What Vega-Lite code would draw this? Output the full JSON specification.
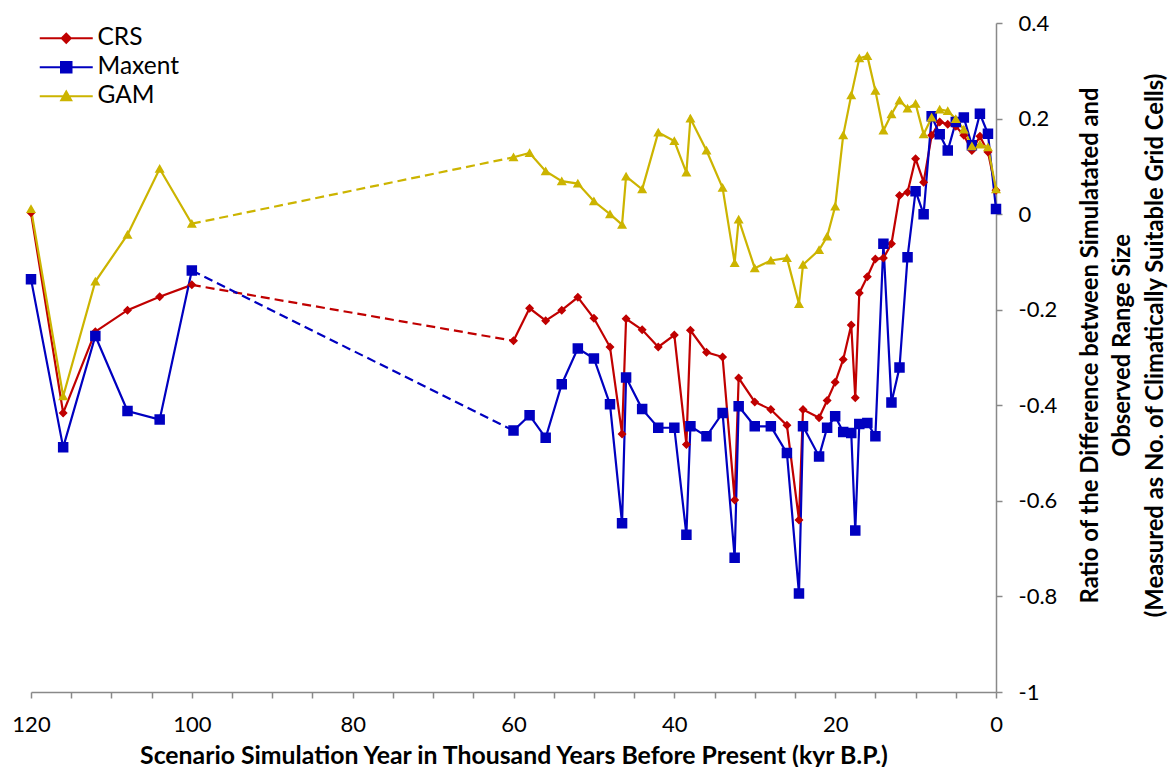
{
  "$schema": "https://vega.github.io/schema/vega-lite/v6.json",
  "width": 965,
  "height": 669,
  "autosize": {"type": "none"},
  "padding": {"left": 31, "top": 23, "right": 177, "bottom": 75},
  "background": "white",
  "config": {
    "view": {"stroke": null},
    "font": "Lato",
    "axis": {"grid": false, "domainColor": "#898989", "tickColor": "#898989", "domainWidth": 1.5, "tickWidth": 1.5, "labelColor": "#000000", "titleColor": "#000000", "labelFont": "Lato", "titleFont": "Lato", "labelFontSize": 22, "titleFontSize": 24.8, "titleFontWeight": "bold"}
  },
  "data": {"values": [
    {"m":"CRS","x":120,"y":0.003},{"m":"CRS","x":116,"y":-0.416},{"m":"CRS","x":112,"y":-0.246},{"m":"CRS","x":108,"y":-0.201},{"m":"CRS","x":104,"y":-0.173},{"m":"CRS","x":100,"y":-0.148},
    {"m":"CRS","x":60,"y":-0.265},{"m":"CRS","x":58,"y":-0.197},{"m":"CRS","x":56,"y":-0.223},{"m":"CRS","x":54,"y":-0.201},{"m":"CRS","x":52,"y":-0.174},{"m":"CRS","x":50,"y":-0.218},{"m":"CRS","x":48,"y":-0.278},{"m":"CRS","x":46.5,"y":-0.46},{"m":"CRS","x":46,"y":-0.219},{"m":"CRS","x":44,"y":-0.242},{"m":"CRS","x":42,"y":-0.278},{"m":"CRS","x":40,"y":-0.253},{"m":"CRS","x":38.5,"y":-0.482},{"m":"CRS","x":38,"y":-0.243},{"m":"CRS","x":36,"y":-0.289},{"m":"CRS","x":34,"y":-0.299},{"m":"CRS","x":32.5,"y":-0.598},{"m":"CRS","x":32,"y":-0.343},{"m":"CRS","x":30,"y":-0.393},{"m":"CRS","x":28,"y":-0.409},{"m":"CRS","x":26,"y":-0.442},{"m":"CRS","x":24.5,"y":-0.64},{"m":"CRS","x":24,"y":-0.409},{"m":"CRS","x":22,"y":-0.426},{"m":"CRS","x":21,"y":-0.39},{"m":"CRS","x":20,"y":-0.352},{"m":"CRS","x":19,"y":-0.304},{"m":"CRS","x":18,"y":-0.232},{"m":"CRS","x":17.5,"y":-0.384},{"m":"CRS","x":17,"y":-0.165},{"m":"CRS","x":16,"y":-0.131},{"m":"CRS","x":15,"y":-0.094},{"m":"CRS","x":14,"y":-0.092},{"m":"CRS","x":13,"y":-0.062},{"m":"CRS","x":12,"y":0.039},{"m":"CRS","x":11,"y":0.046},{"m":"CRS","x":10,"y":0.116},{"m":"CRS","x":9,"y":0.067},{"m":"CRS","x":8,"y":0.165},{"m":"CRS","x":7,"y":0.193},{"m":"CRS","x":6,"y":0.188},{"m":"CRS","x":5,"y":0.184},{"m":"CRS","x":4,"y":0.165},{"m":"CRS","x":3,"y":0.133},{"m":"CRS","x":2,"y":0.163},{"m":"CRS","x":1,"y":0.13},{"m":"CRS","x":0,"y":0.05},
    {"m":"Maxent","x":120,"y":-0.136},{"m":"Maxent","x":116,"y":-0.488},{"m":"Maxent","x":112,"y":-0.255},{"m":"Maxent","x":108,"y":-0.412},{"m":"Maxent","x":104,"y":-0.43},{"m":"Maxent","x":100,"y":-0.118},
    {"m":"Maxent","x":60,"y":-0.453},{"m":"Maxent","x":58,"y":-0.421},{"m":"Maxent","x":56,"y":-0.468},{"m":"Maxent","x":54,"y":-0.356},{"m":"Maxent","x":52,"y":-0.281},{"m":"Maxent","x":50,"y":-0.302},{"m":"Maxent","x":48,"y":-0.398},{"m":"Maxent","x":46.5,"y":-0.647},{"m":"Maxent","x":46,"y":-0.342},{"m":"Maxent","x":44,"y":-0.408},{"m":"Maxent","x":42,"y":-0.447},{"m":"Maxent","x":40,"y":-0.447},{"m":"Maxent","x":38.5,"y":-0.671},{"m":"Maxent","x":38,"y":-0.444},{"m":"Maxent","x":36,"y":-0.465},{"m":"Maxent","x":34,"y":-0.416},{"m":"Maxent","x":32.5,"y":-0.719},{"m":"Maxent","x":32,"y":-0.402},{"m":"Maxent","x":30,"y":-0.444},{"m":"Maxent","x":28,"y":-0.444},{"m":"Maxent","x":26,"y":-0.5},{"m":"Maxent","x":24.5,"y":-0.794},{"m":"Maxent","x":24,"y":-0.444},{"m":"Maxent","x":22,"y":-0.507},{"m":"Maxent","x":21,"y":-0.447},{"m":"Maxent","x":20,"y":-0.423},{"m":"Maxent","x":19,"y":-0.456},{"m":"Maxent","x":18,"y":-0.458},{"m":"Maxent","x":17.5,"y":-0.662},{"m":"Maxent","x":17,"y":-0.439},{"m":"Maxent","x":16,"y":-0.437},{"m":"Maxent","x":15,"y":-0.465},{"m":"Maxent","x":14,"y":-0.062},{"m":"Maxent","x":13,"y":-0.394},{"m":"Maxent","x":12,"y":-0.321},{"m":"Maxent","x":11,"y":-0.09},{"m":"Maxent","x":10,"y":0.048},{"m":"Maxent","x":9,"y":0.0},{"m":"Maxent","x":8,"y":0.205},{"m":"Maxent","x":7,"y":0.167},{"m":"Maxent","x":6,"y":0.133},{"m":"Maxent","x":5,"y":0.193},{"m":"Maxent","x":4,"y":0.202},{"m":"Maxent","x":3,"y":0.144},{"m":"Maxent","x":2,"y":0.21},{"m":"Maxent","x":1,"y":0.168},{"m":"Maxent","x":0,"y":0.011},
    {"m":"GAM","x":120,"y":0.011},{"m":"GAM","x":116,"y":-0.381},{"m":"GAM","x":112,"y":-0.141},{"m":"GAM","x":108,"y":-0.043},{"m":"GAM","x":104,"y":0.095},{"m":"GAM","x":100,"y":-0.02},
    {"m":"GAM","x":60,"y":0.119},{"m":"GAM","x":58,"y":0.128},{"m":"GAM","x":56,"y":0.09},{"m":"GAM","x":54,"y":0.069},{"m":"GAM","x":52,"y":0.064},{"m":"GAM","x":50,"y":0.027},{"m":"GAM","x":48,"y":0.0},{"m":"GAM","x":46.5,"y":-0.022},{"m":"GAM","x":46,"y":0.079},{"m":"GAM","x":44,"y":0.052},{"m":"GAM","x":42,"y":0.171},{"m":"GAM","x":40,"y":0.153},{"m":"GAM","x":38.5,"y":0.087},{"m":"GAM","x":38,"y":0.2},{"m":"GAM","x":36,"y":0.133},{"m":"GAM","x":34,"y":0.055},{"m":"GAM","x":32.5,"y":-0.102},{"m":"GAM","x":32,"y":-0.011},{"m":"GAM","x":30,"y":-0.113},{"m":"GAM","x":28,"y":-0.097},{"m":"GAM","x":26,"y":-0.092},{"m":"GAM","x":24.5,"y":-0.188},{"m":"GAM","x":24,"y":-0.106},{"m":"GAM","x":22,"y":-0.075},{"m":"GAM","x":21,"y":-0.047},{"m":"GAM","x":20,"y":0.016},{"m":"GAM","x":19,"y":0.165},{"m":"GAM","x":18,"y":0.249},{"m":"GAM","x":17,"y":0.326},{"m":"GAM","x":16,"y":0.331},{"m":"GAM","x":15,"y":0.258},{"m":"GAM","x":14,"y":0.175},{"m":"GAM","x":13,"y":0.209},{"m":"GAM","x":12,"y":0.238},{"m":"GAM","x":11,"y":0.221},{"m":"GAM","x":10,"y":0.231},{"m":"GAM","x":9,"y":0.167},{"m":"GAM","x":8,"y":0.202},{"m":"GAM","x":7,"y":0.219},{"m":"GAM","x":6,"y":0.216},{"m":"GAM","x":5,"y":0.199},{"m":"GAM","x":4,"y":0.177},{"m":"GAM","x":3,"y":0.142},{"m":"GAM","x":2,"y":0.146},{"m":"GAM","x":1,"y":0.14},{"m":"GAM","x":0,"y":0.052}
  ]},
  "transform": [{"calculate": "datum.x >= 100 ? 'early' : 'late'", "as": "seg"}],
  "encoding": {
    "x": {
      "field": "x", "type": "quantitative",
      "scale": {"domain": [0, 120], "reverse": true, "nice": false, "zero": false},
      "axis": {
        "orient": "bottom",
        "values": [0,5,10,15,20,25,30,35,40,45,50,55,60,65,70,75,80,85,90,95,100,105,110,115,120],
        "labelExpr": "datum.value % 20 === 0 ? datum.label : ''",
        "tickSize": 6, "labelPadding": 16, "labelFlush": false, "labelOverlap": false,
        "title": "Scenario Simulation Year in Thousand Years Before Present (kyr B.P.)",
        "titleY": 64, "titleBaseline": "middle"
      }
    },
    "y": {
      "field": "y", "type": "quantitative",
      "scale": {"domain": [-1, 0.4], "nice": false, "zero": false},
      "axis": {
        "orient": "right",
        "values": [-1, -0.8, -0.6, -0.4, -0.2, 0, 0.2, 0.4],
        "labelExpr": "datum.value < 0 ? '-' + format(-datum.value, '~g') : format(datum.value, '~g')",
        "tickSize": 6, "labelPadding": 16, "labelAlign": "left", "labelFlush": false, "labelOverlap": false,
        "title": ["Ratio of the Difference between Simulatated and", "Observed Range Size", "(Measured as No. of Climatically Suitable Grid Cells)"],
        "titleFontSize": 23.8,
        "titleAngle": 270, "titleLineHeight": 32.5, "titleX": 94, "titleY": 322, "titleBaseline": "middle", "titleAlign": "center"
      }
    },
    "color": {
      "field": "m", "type": "nominal",
      "scale": {"domain": ["CRS", "Maxent", "GAM"], "range": ["#C00000", "#0000C0", "#CCB400"]},
      "legend": {
        "orient": "none", "legendX": 23, "legendY": 3, "title": null, "padding": 0,
        "labelFontSize": 24.5, "labelFont": "Lato", "labelColor": "#000000",
        "symbolSize": 100, "labelOffset": 19, "rowPadding": 4,
        "encode": {"symbols": {"update": {
          "fill": {"scale": "color", "field": "value"},
          "stroke": {"scale": "color", "field": "value"},
          "strokeWidth": {"value": 2},
          "opacity": {"value": 1}
        }}}
      }
    }
  },
  "layer": [
    {
      "mark": {"type": "line", "strokeWidth": 2.2},
      "encoding": {"detail": {"field": "seg", "type": "nominal"}}
    },
    {
      "transform": [{"filter": "datum.x == 100 || datum.x == 60"}],
      "mark": {"type": "line", "strokeWidth": 2.2, "strokeDash": [9, 5]},
      "encoding": {}
    },
    {
      "mark": {"type": "point", "filled": true, "size": 100, "opacity": 1},
      "encoding": {
        "shape": {
          "field": "m", "type": "nominal",
          "scale": {"domain": ["CRS", "Maxent", "GAM"], "range": [
            "M-5.3,0H5.3M-0.9,0L0,-0.9L0.9,0L0,0.9Z",
            "M-5.3,0H5.3M-1.05,-1.05H1.05V1.05H-1.05Z",
            "M-5.3,0H5.3M0,-0.95L1,0.8L-1,0.8Z"
          ]},
          "legend": {
            "orient": "none", "legendX": 23, "legendY": 3, "title": null, "padding": 0,
            "labelFontSize": 24.5, "labelFont": "Lato", "labelColor": "#000000",
            "symbolSize": 100, "labelOffset": 19, "rowPadding": 4,
            "encode": {"symbols": {"update": {
              "fill": {"scale": "color", "field": "value"},
              "stroke": {"scale": "color", "field": "value"},
              "strokeWidth": {"value": 2},
              "opacity": {"value": 1}
            }}}
          }
        }
      }
    }
  ]
}
